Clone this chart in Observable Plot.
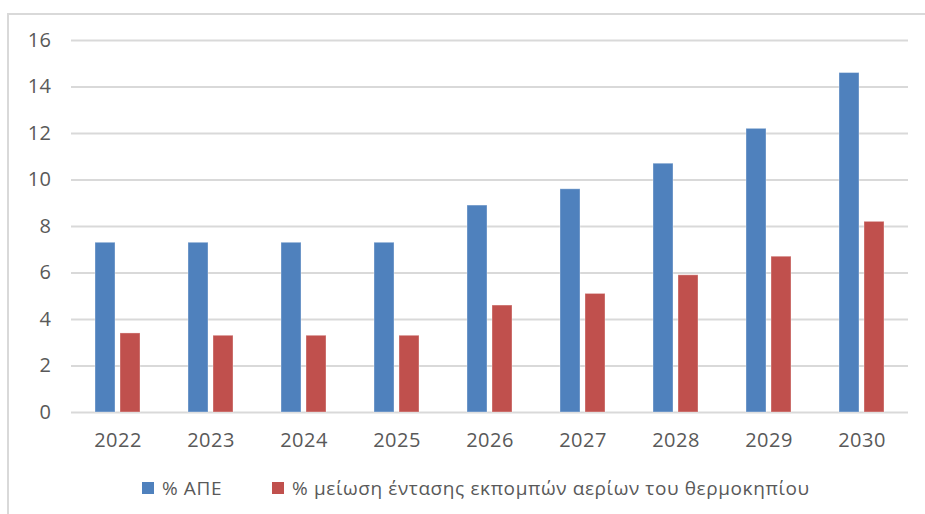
<!DOCTYPE html>
<html>
<head>
<meta charset="utf-8">
<script src="https://cdn.jsdelivr.net/npm/d3@7"></script>
<script src="https://cdn.jsdelivr.net/npm/@observablehq/plot@0.6"></script>
<style>
  html, body { margin: 0; padding: 0; background: #fff; }
  #wrap { position: relative; width: 925px; height: 514px; overflow: hidden; font-family: "Open Sans", sans-serif; }
  #frame { position: absolute; left: 7px; top: 13px; width: 940px; height: 520px; border-top: 2px solid #d9d9d9; border-left: 2px solid #d9d9d9; box-sizing: border-box; }
  #chart { position: absolute; left: 0; top: 0; }
  #legend { position: absolute; left: 142px; top: 475px; display: flex; align-items: center; color: #595959; font-size: 19px; letter-spacing: 0.6px; white-space: nowrap; }
  .sw { display: inline-block; width: 12px; height: 12px; margin-right: 8px; }
  .item { display: flex; align-items: center; }
</style>
</head>
<body>
<div id="wrap">
  <div id="frame"></div>
  <div id="chart"></div>
  <div id="legend"></div>
</div>
<script>
const years = ["2022", "2023", "2024", "2025", "2026", "2027", "2028", "2029", "2030"];
const seriesNames = ["% ΑΠΕ", "% μείωση έντασης εκπομπών αερίων του θερμοκηπίου"];
const apeValues = [7.3, 7.3, 7.3, 7.3, 8.9, 9.6, 10.7, 12.2, 14.6];
const ghgValues = [3.4, 3.3, 3.3, 3.3, 4.6, 5.1, 5.9, 6.7, 8.2];
const seriesColors = ["#4F81BD", "#C0504D"];
const yTicks = [0, 2, 4, 6, 8, 10, 12, 14, 16];

const data = [];
years.forEach((y, i) => {
  data.push({year: y, series: seriesNames[0], value: apeValues[i]});
  data.push({year: y, series: seriesNames[1], value: ghgValues[i]});
});

const chart = Plot.plot({
  width: 925,
  height: 460,
  marginLeft: 70,
  marginRight: 16,
  marginTop: 40,
  marginBottom: 48,
  style: {fontFamily: "Open Sans, sans-serif", fontSize: "20px", letterSpacing: "0.5px", color: "#595959", background: "transparent"},
  fx: {domain: years, paddingInner: 0, paddingOuter: 0, label: null, axis: "bottom", tickSize: 0, tickPadding: 20},
  x: {domain: seriesNames, paddingInner: 0.21, paddingOuter: 0.9, axis: null},
  y: {domain: [0, 16], ticks: yTicks, label: null, tickSize: 0, tickPadding: 20},
  color: {domain: seriesNames, range: seriesColors},
  marks: [
    Plot.gridY(yTicks, {stroke: "#d9d9d9", strokeWidth: 2, strokeOpacity: 1}),
    Plot.barY(data, {fx: "year", x: "series", y: "value", fill: "series", stroke: "#ffffff", strokeOpacity: 0.35, strokeWidth: 1}),
    Plot.axisY(yTicks, {tickSize: 0, tickPadding: 20, fontSize: 20, fill: "#595959"})
  ]
});
document.getElementById("chart").appendChild(chart);

const legend = document.getElementById("legend");
seriesNames.forEach((name, i) => {
  const item = document.createElement("span");
  item.className = "item";
  if (i > 0) item.style.marginLeft = "50px";
  const sw = document.createElement("span");
  sw.className = "sw";
  sw.style.background = seriesColors[i];
  const t = document.createElement("span");
  t.textContent = name;
  item.appendChild(sw);
  item.appendChild(t);
  legend.appendChild(item);
});
</script>
</body>
</html>
